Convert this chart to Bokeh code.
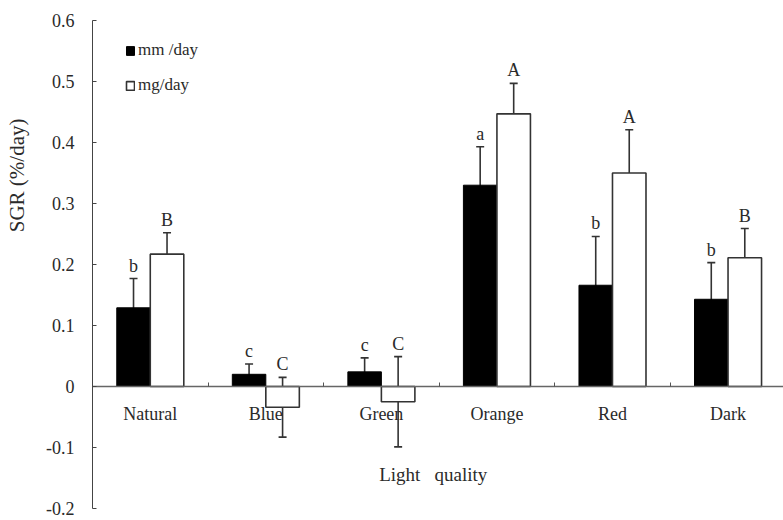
from bokeh.plotting import figure
from bokeh.models import (Range1d, FixedTicker, ColumnDataSource, Whisker, TeeHead,
                          Title, Legend, LegendItem)
from bokeh.core.properties import value
from bokeh.embed import file_html
from bokeh.resources import INLINE

categories = ["Natural", "Blue", "Green", "Orange", "Red", "Dark"]
mm_day = [0.129, 0.020, 0.024, 0.330, 0.166, 0.143]
mm_err = [0.048, 0.017, 0.023, 0.063, 0.080, 0.060]
mm_letters = ["b", "c", "c", "a", "b", "b"]
mg_day = [0.217, -0.034, -0.025, 0.447, 0.350, 0.211]
mg_err = [0.035, 0.049, 0.074, 0.050, 0.071, 0.048]
mg_letters = ["B", "C", "C", "A", "A", "B"]
y_ticks = [-0.2, -0.1, 0, 0.1, 0.2, 0.3, 0.4, 0.5, 0.6]
y_tick_labels = ["-0.2", "-0.1", "0", "0.1", "0.2", "0.3", "0.4", "0.5", "0.6"]

FONT = "Liberation Serif"
TXT = "#2a2a2a"

centers = [i + 0.5 for i in range(len(categories))]
bw = 0.29
x_mm = [c - bw / 2 for c in centers]
x_mg = [c + bw / 2 for c in centers]

src_mm = ColumnDataSource(dict(x=x_mm, top=mm_day, up=[v + e for v, e in zip(mm_day, mm_err)],
                               lo=[v - e for v, e in zip(mm_day, mm_err)], lab=mm_letters))
src_mg = ColumnDataSource(dict(x=x_mg, top=mg_day, up=[v + e for v, e in zip(mg_day, mg_err)],
                               lo=[v - e for v, e in zip(mg_day, mg_err)], lab=mg_letters))

p = figure(width=783, height=520, output_backend="svg", toolbar_location=None,
           x_range=Range1d(0, 5.98), y_range=Range1d(-0.2, 0.6),
           min_border_left=92, min_border_right=0, min_border_top=20, min_border_bottom=12)
p.outline_line_color = None
p.xgrid.visible = False
p.ygrid.visible = False
p.background_fill_color = "white"
p.border_fill_color = "white"

r_mm = p.vbar(x="x", top="top", bottom=0, width=bw, source=src_mm,
              fill_color="black", line_color="black", line_width=1)
r_mg = p.vbar(x="x", top="top", bottom=0, width=bw, source=src_mg,
              fill_color="white", line_color="#333333", line_width=1.6)

w_mm = Whisker(source=src_mm, base="x", upper="up", lower="lo", dimension="height",
               line_color="#333333", line_width=1.6,
               upper_head=TeeHead(size=8, line_color="#333333", line_width=1.6), lower_head=None)
w_mg = Whisker(source=src_mg, base="x", upper="up", lower="lo", dimension="height",
               line_color="#333333", line_width=1.6,
               upper_head=TeeHead(size=8, line_color="#333333", line_width=1.6),
               lower_head=TeeHead(size=8, line_color="#333333", line_width=1.6))
p.add_layout(w_mm)
p.add_layout(w_mg)

for s in (src_mm, src_mg):
    p.text(x="x", y="up", text="lab", source=s, y_offset=-3, text_align="center",
           text_baseline="bottom", text_font=value(FONT), text_font_size="18px", text_color=TXT)

# y axis
ya = p.yaxis[0]
ya.ticker = FixedTicker(ticks=y_ticks, minor_ticks=[])
ya.major_label_overrides = {t: s for t, s in zip(y_ticks, y_tick_labels)}
ya.major_tick_in = 4
ya.major_tick_out = 0
ya.minor_tick_line_color = None
ya.axis_line_color = "#444444"
ya.major_tick_line_color = "#444444"
ya.major_label_standoff = 18
ya.major_label_text_font = FONT
ya.major_label_text_font_size = "18px"
ya.major_label_text_color = TXT
ya.axis_label = "\u00a0"
ya.axis_label_text_font_size = "4px"
ya.axis_label_standoff = 5

# x axis at y = 0
xa = p.xaxis[0]
xa.fixed_location = 0
xa.ticker = FixedTicker(ticks=centers, minor_ticks=[1, 2, 3, 4, 5])
xa.major_label_overrides = {c: n for c, n in zip(centers, categories)}
xa.major_tick_line_color = None
xa.major_tick_in = 0
xa.major_tick_out = 0
xa.minor_tick_in = 4
xa.minor_tick_out = 0
xa.minor_tick_line_color = "#555555"
xa.axis_line_color = "#666666"
xa.axis_line_width = 1.5
xa.major_label_standoff = 17
xa.major_label_text_font = FONT
xa.major_label_text_font_size = "18px"
xa.major_label_text_color = TXT
xa.axis_label = "Light\u00a0\u00a0\u00a0quality\u00a0\u00a0"
xa.axis_label_standoff = 37
xa.axis_label_text_font = FONT
xa.axis_label_text_font_size = "19px"
xa.axis_label_text_font_style = "normal"
xa.axis_label_text_color = TXT

ytitle = Title(text="SGR (%/day)", align="right", offset=98, vertical_align="top",
               standoff=0, text_font=FONT, text_font_size="21px",
               text_font_style="normal", text_color=TXT)
p.add_layout(ytitle, "left")

legend = Legend(items=[LegendItem(label="mm /day", renderers=[r_mm]),
                       LegendItem(label="mg/day", renderers=[r_mg])],
                location=(33, 413), glyph_width=10, glyph_height=11, label_standoff=3,
                label_text_font=FONT, label_text_font_size="17px", label_text_color=TXT,
                label_height=11, spacing=15, padding=0, margin=0,
                border_line_color=None, background_fill_alpha=0)
p.add_layout(legend)

open("out.html", "w").write(file_html(p, INLINE))
